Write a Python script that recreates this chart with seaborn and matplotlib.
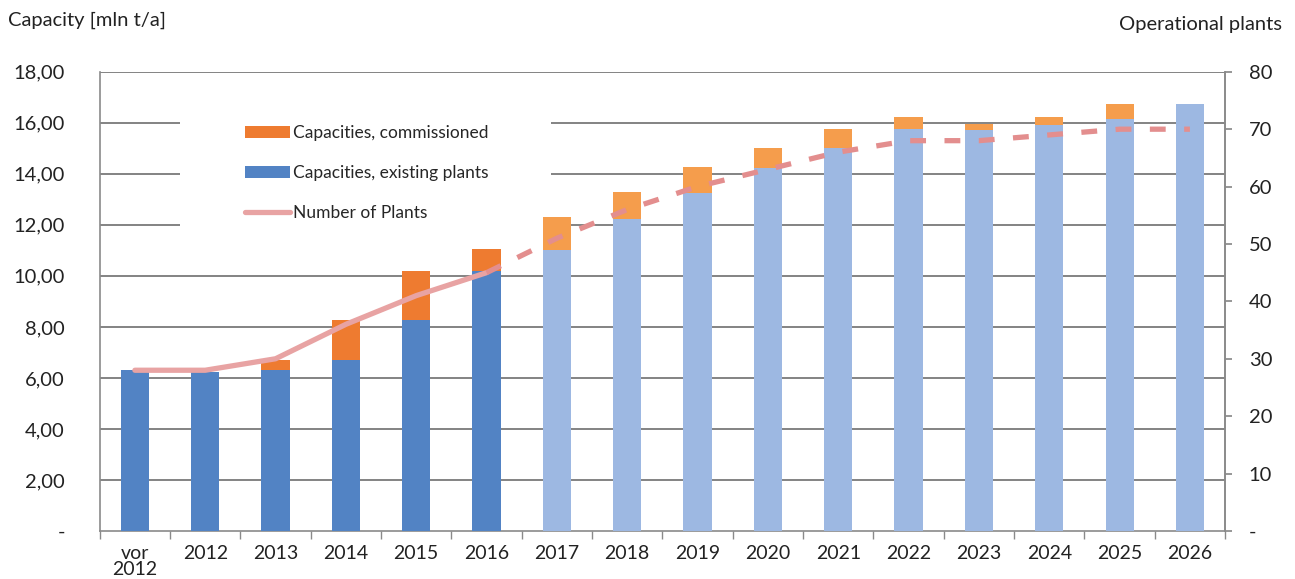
import matplotlib
matplotlib.use("Agg")
import matplotlib.pyplot as plt
from matplotlib.patches import Patch, Rectangle
from matplotlib.lines import Line2D
from matplotlib.ticker import FixedLocator, FuncFormatter
import numpy as np
import pandas as pd
import seaborn as sns

# Capacity in mln t/a and number of operational plants per year
years = ["vor\n2012", "2012", "2013", "2014", "2015", "2016", "2017", "2018",
         "2019", "2020", "2021", "2022", "2023", "2024", "2025", "2026"]
existing = [6.30, 6.25, 6.30, 6.70, 8.27, 10.20, 11.00, 12.24,
            13.25, 14.24, 15.00, 15.76, 15.72, 15.92, 16.15, 16.75]
commissioned = [0.00, 0.00, 0.40, 1.57, 1.93, 0.86, 1.30, 1.06,
                1.02, 0.78, 0.76, 0.48, 0.24, 0.30, 0.60, 0.00]
plants = [28, 28, 30, 36, 41, 45, 51, 56, 60, 63, 66, 68, 68, 69, 70, 70]
period = ["actual"] * 6 + ["planned"] * 10

df = pd.DataFrame({
    "year": years,
    "existing": existing,
    "total": np.array(existing) + np.array(commissioned),
    "plants": plants,
    "period": period,
})
df["pos"] = np.arange(len(df))

blue = {"actual": "#5283c4", "planned": "#9db8e2"}
orange = {"actual": "#ee7b30", "planned": "#f59d4c"}
pink_solid = "#e8a3a3"
pink_dash = "#e38e8e"

sns.set_theme(style="white")
plt.rcParams["font.family"] = ["Lato", "DejaVu Sans"]

fig = plt.figure(figsize=(12.95, 5.79), dpi=100)
ax = fig.add_axes([0.077, 0.083, 0.869, 0.793])

# grid lines behind bars
for v in np.arange(2, 19, 2):
    ax.axhline(v, color="#6e6e6e", lw=1.2, zorder=0)

# white panel behind the legend that masks the grid lines
ax.add_patch(Rectangle((0.071, 0.63), 0.33, 0.315, transform=ax.transAxes,
                       facecolor="white", edgecolor="none", zorder=1))

# stacked bars: total (orange) underneath, existing (blue) on top
sns.barplot(data=df, x="year", y="total", hue="period", palette=orange,
            dodge=False, width=0.4, legend=False, ax=ax, zorder=2,
            saturation=1, order=years, linewidth=0, edgecolor="none")
sns.barplot(data=df, x="year", y="existing", hue="period", palette=blue,
            dodge=False, width=0.4, legend=False, ax=ax, zorder=3,
            saturation=1, order=years, linewidth=0, edgecolor="none")

ax.set_xlim(-0.5, len(years) - 0.5)
ax.set_ylim(0, 18)
ax.set_yticks(np.arange(0, 19, 2))
ax.yaxis.set_major_formatter(FuncFormatter(
    lambda v, p: "-" if v == 0 else f"{v:.2f}".replace(".", ",")))
ax.set_xlabel("")
ax.set_ylabel("")
ax.tick_params(axis="y", labelsize=14.5, pad=25, length=0, colors="#222222")
ax.tick_params(axis="x", labelsize=14, pad=10, length=0, colors="#222222")
for lab in ax.get_xticklabels():
    lab.set_verticalalignment("top")
    lab.set_linespacing(0.95)
# category boundary ticks on the x axis
ax.xaxis.set_minor_locator(FixedLocator(np.arange(-0.5, len(years), 1)))
ax.tick_params(axis="x", which="minor", length=6, color="#8a8a8a",
               direction="out", bottom=True)
ax.spines["top"].set_visible(False)
for s in ["left", "bottom", "right"]:
    ax.spines[s].set_color("#8a8a8a")
    ax.spines[s].set_linewidth(1.2)

# secondary axis: number of plants
ax2 = ax.twinx()
ax2.set_ylim(0, 80)
ax2.set_yticks(np.arange(0, 81, 10))
ax2.yaxis.set_major_formatter(FuncFormatter(
    lambda v, p: "-" if v == 0 else f"{int(v)}"))
ax2.tick_params(axis="y", labelsize=14.5, length=5, color="#8a8a8a",
                labelcolor="#222222", pad=12)
for s in ["top", "left", "bottom"]:
    ax2.spines[s].set_visible(False)
ax2.spines["right"].set_color("#8a8a8a")
ax2.spines["right"].set_linewidth(1.2)

hist = df.iloc[:6]
plan = df.iloc[5:]
sns.lineplot(x=hist["pos"], y=hist["plants"], color=pink_solid, lw=3.8,
             ax=ax2, zorder=5)
sns.lineplot(x=plan["pos"], y=plan["plants"], color=pink_dash, lw=3.8,
             ax=ax2, zorder=5, linestyle=(0, (3, 3.5)))
ax2.set_xlabel("")
ax2.set_ylabel("")
ax2.set_xlim(-0.5, len(years) - 0.5)

handles = [
    Patch(facecolor=orange["actual"], edgecolor="none"),
    Patch(facecolor=blue["actual"], edgecolor="none"),
    Line2D([0], [0], color=pink_solid, lw=3.8),
]
labels = ["Capacities, commissioned", "Capacities, existing plants",
          "Number of Plants"]
leg = ax2.legend(handles, labels, loc="upper left",
                 bbox_to_anchor=(0.129, 0.884), frameon=False, fontsize=12.5,
                 handlelength=2.6, handleheight=0.7, handletextpad=0.17,
                 labelspacing=1.38, borderpad=0, borderaxespad=0)
leg.set_zorder(10)

fig.text(0.006, 0.965, "Capacity [mln t/a]", fontsize=14.5, color="#222222",
         ha="left", va="center")
fig.text(0.99, 0.958, "Operational plants", fontsize=14.5, color="#222222",
         ha="right", va="center")

fig.savefig("out.png", dpi=100, facecolor="white")
